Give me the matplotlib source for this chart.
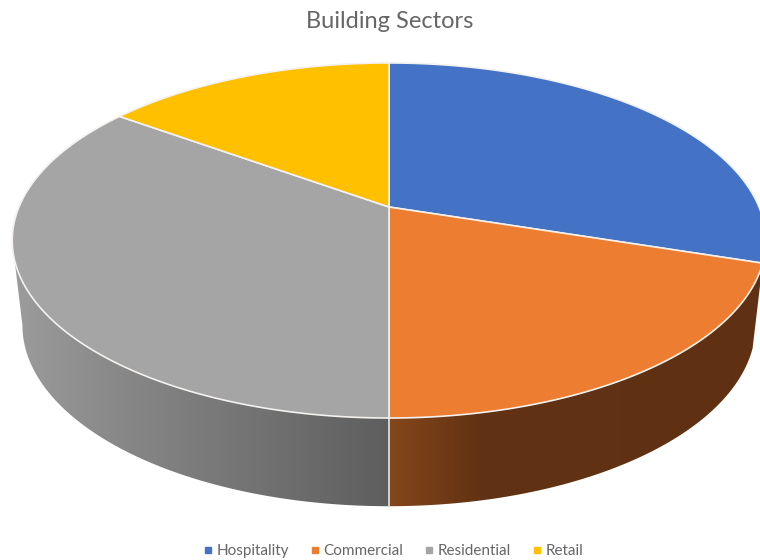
import matplotlib
matplotlib.use('Agg')
import matplotlib.pyplot as plt
from matplotlib.colors import to_rgb
from matplotlib.lines import Line2D
from matplotlib.patches import Polygon
import numpy as np

plt.rcParams['font.family'] = ['Lato', 'DejaVu Sans']

sectors = ['Hospitality', 'Commercial', 'Residential', 'Retail']
shares = [30, 20, 35, 15]
colors = ['#4472C4', '#ED7D31', '#A5A5A5', '#FFC000']

TILT = 0.1887  # perspective strength of the disc
APEX = (389, 207)


# angle is clockwise from 12 o'clock, in degrees
def project(angle, cx, cy, rx, ry):
    t = np.radians(angle)
    u = np.sin(t)
    v = np.cos(t)
    den = 1 + TILT * v
    return cx + rx * u / den, cy - ry * v / den


def top(angle):
    return project(angle, APEX[0], APEX[1], 370, 171.2)


def base(angle):
    return project(angle, 389, 291, 360, 174.6)


fig = plt.figure(figsize=(7.6, 5.6), dpi=100)
ax = fig.add_axes([0, 0, 1, 1])

edges = np.concatenate([[0], np.cumsum(shares)]) * 360 / sum(shares)

# front wall: a horizontal gradient clipped to the outline of each part
limit = 360 - np.degrees(np.arccos(-TILT))
wall_parts = [
    (edges[1], edges[2], [389, 480, 760], ['#85471B', '#613213', '#5F3112']),
    (edges[2], limit, [12, 130, 300, 389], ['#9C9C9C', '#868686', '#6C6C6C', '#5E5E5E']),
]
for start, stop, stops_x, stops_col in wall_parts:
    steps = np.linspace(start, stop, 160)
    outline = [top(a) for a in steps] + [base(a) for a in steps[::-1]]
    xs = np.arange(stops_x[0], stops_x[-1] + 1)
    rgb = np.array([to_rgb(c) for c in stops_col])
    grad = np.stack([np.interp(xs, stops_x, rgb[:, i]) for i in range(3)], axis=1)[np.newaxis]
    clip = Polygon(outline, closed=True, transform=ax.transData, facecolor='none', edgecolor='none')
    ax.add_patch(clip)
    im = ax.imshow(grad, extent=[stops_x[0], stops_x[-1], 560, 0], aspect='auto',
                   interpolation='bilinear', zorder=1)
    im.set_clip_path(clip)

ax.set_xlim(0, 760)
ax.set_ylim(560, 0)
ax.axis('off')

# seam between the two visible wall parts
ax.plot(*zip(top(edges[2]), base(edges[2])), color='#E9E4E0', lw=1.2, zorder=2)

# slices on the top face
for i in range(len(sectors)):
    arc = np.linspace(edges[i], edges[i + 1], 120)
    pts = [top(a) for a in arc]
    pts.append(APEX)
    ax.add_patch(Polygon(pts, closed=True, facecolor=colors[i], edgecolor='#F4F1EE',
                         linewidth=1.2, joinstyle='round', zorder=3))

ax.text(390, 21, 'Building Sectors', ha='center', va='center', fontsize=17, color='#666666')

handles = [Line2D([], [], linestyle='none', marker='s', markersize=4, color=c) for c in colors]
ax.legend(handles, sectors, ncol=4, loc='center', bbox_to_anchor=(394 / 760, 1 - 551 / 560),
          bbox_transform=fig.transFigure, frameon=False, fontsize=11, labelcolor='#666666',
          handlelength=0.4, handletextpad=0.35, columnspacing=1.5, borderpad=0)

fig.savefig('out.png', dpi=100)
